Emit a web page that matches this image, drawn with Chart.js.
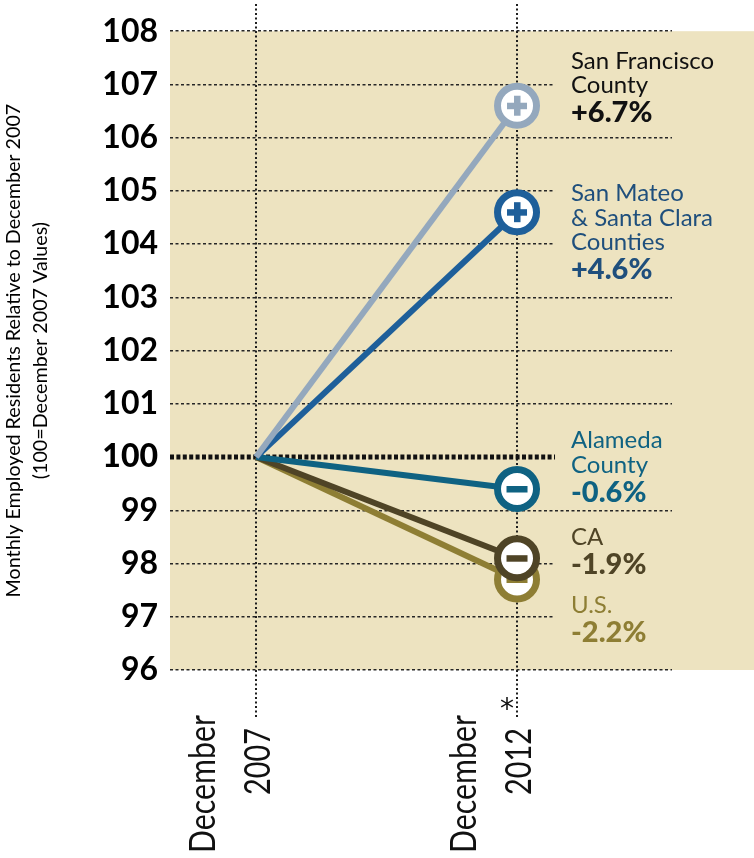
<!DOCTYPE html>
<html>
<head>
<meta charset="utf-8">
<script src="https://cdn.jsdelivr.net/npm/chart.js@4.4.1/dist/chart.umd.min.js"></script>
<style>
  html, body { margin: 0; padding: 0; background: #fff; }
  #wrap { width: 754px; height: 858px; }
</style>
</head>
<body>
<div id="wrap"><canvas id="myChart" width="754" height="858"></canvas></div>
<script>
"use strict";

// categories (x) and their tick labels
const years = [2007, 2012];
const xTickLabels = [['December', '2007'], ['December', '2012']];

// y axis
const yMin = 96;
const yMax = 108;
const yStep = 1;
const baseValue = 100;

// series (index values, Dec 2007 = 100)
const seriesNames = ['San Francisco County', 'San Mateo & Santa Clara Counties', 'Alameda County', 'CA', 'U.S.'];
const labelLines = [['San Francisco', 'County'], ['San Mateo', '& Santa Clara', 'Counties'], ['Alameda', 'County'], ['CA'], ['U.S.']];
const changeLabels = ['+6.7%', '+4.6%', '-0.6%', '-1.9%', '-2.2%'];
const sanFrancisco = [100, 106.6];
const sanMateoSantaClara = [100, 104.6];
const alameda = [100, 99.4];
const california = [100, 98.1];
const unitedStates = [100, 97.7];

const yTitle = ['Monthly Employed Residents Relative to December 2007', '(100=December 2007 Values)'];

var seriesValues = [sanFrancisco, sanMateoSantaClara, alameda, california, unitedStates];

// look of each series; labelAt = y value of the first label line baseline
var seriesStyle = [
    { line: '#94a8bd', text: '#111111', sign: '+', labelAt: 107.29 },
    { line: '#1e5f9a', text: '#1f4f7c', sign: '+', labelAt: 104.81 },
    { line: '#0f6282', text: '#0f6282', sign: '-', labelAt: 100.17 },
    { line: '#4f4426', text: '#4f4426', sign: '-', labelAt: 98.34 },
    { line: '#8e7e34', text: '#8e7e34', sign: '-', labelAt: 97.07 }
];

var TAN = '#ede3c0';
var FONT = 'Lato, "Open Sans", sans-serif';

// draw text rotated -90deg, squeezed along its length to a given width
function upText(ctx, text, x, y, width) {
    var w = ctx.measureText(text).width;
    ctx.save();
    ctx.translate(x, y);
    ctx.rotate(-Math.PI / 2);
    ctx.scale(width / w, 1);
    ctx.fillText(text, 0, 0);
    ctx.restore();
}

var paperPlugin = {
    id: 'paper',
    beforeDraw: function (chart) {
        var ctx = chart.ctx, a = chart.chartArea;
        ctx.save();
        ctx.fillStyle = TAN;
        ctx.fillRect(a.left, a.top, chart.width - a.left, a.bottom - a.top);
        ctx.restore();
    },
    beforeDatasetsDraw: function (chart) {
        var ctx = chart.ctx, a = chart.chartArea;
        var xs = chart.scales.x, ys = chart.scales.y;

        // vertical dotted markers at each category
        ctx.save();
        ctx.strokeStyle = '#1e1e1e';
        ctx.lineWidth = 2;
        ctx.setLineDash([2, 2.5]);
        years.forEach(function (yr) {
            var x = Math.round(xs.getPixelForValue(yr));
            ctx.beginPath();
            ctx.moveTo(x, 4);
            ctx.lineTo(x, 717);
            ctx.stroke();
        });
        ctx.restore();

        // thick dotted baseline at 100
        var y0 = ys.getPixelForValue(baseValue);
        ctx.save();
        ctx.strokeStyle = '#111';
        ctx.lineWidth = 5;
        ctx.setLineDash([4, 2.4]);
        ctx.beginPath();
        ctx.moveTo(a.left, y0);
        ctx.lineTo(a.right, y0);
        ctx.stroke();
        ctx.restore();

        // series labels on the right (boxes hide the grid behind the text)
        var x12 = xs.getPixelForValue(years[years.length - 1]);
        seriesStyle.forEach(function (st, i) {
            var yb = ys.getPixelForValue(st.labelAt);
            var lines = labelLines[i];
            var lastY = yb + (lines.length - 1) * 24.5 + 29;
            ctx.save();
            ctx.fillStyle = TAN;
            ctx.fillRect(x12 + 38, yb - 22, a.right - (x12 + 38) + 1, lastY - yb + 28);
            ctx.fillStyle = st.text;
            ctx.textAlign = 'left';
            ctx.textBaseline = 'alphabetic';
            ctx.font = '24px ' + FONT;
            lines.forEach(function (t, k) {
                ctx.fillText(t, x12 + 54, yb + k * 24.5);
            });
            ctx.font = '900 29px ' + FONT;
            ctx.fillText(changeLabels[i], x12 + 54, lastY);
            ctx.restore();
        });
    },
    afterDatasetDraw: function (chart, args) {
        var ctx = chart.ctx;
        var st = seriesStyle[args.index];
        var pts = args.meta.data;
        var p = pts[pts.length - 1];
        ctx.save();
        ctx.fillStyle = st.line;
        if (st.sign === '+') {
            ctx.fillRect(p.x - 10, p.y - 3, 20, 6.5);
            ctx.fillRect(p.x - 3, p.y - 10, 6.5, 20);
        } else {
            ctx.fillRect(p.x - 10.5, p.y - 3, 21, 6.5);
        }
        ctx.restore();
    },
    afterDraw: function (chart) {
        var ctx = chart.ctx, xs = chart.scales.x;
        ctx.save();
        ctx.fillStyle = '#111';
        ctx.textBaseline = 'alphabetic';
        ctx.textAlign = 'right';
        ctx.font = '36px ' + FONT;
        years.forEach(function (yr, i) {
            var x = xs.getPixelForValue(yr);
            var parts = xTickLabels[i];
            upText(ctx, parts[0], x - 41, 715, 138);
            upText(ctx, parts[1], x + 14, 728, 67);
        });
        // footnote mark on the latest month
        var xl = xs.getPixelForValue(years[years.length - 1]);
        ctx.textAlign = 'center';
        ctx.font = '28px "DejaVu Sans", sans-serif';
        ctx.fillText('*', xl - 10, 718);
        ctx.restore();
    }
};

var datasets = seriesValues.map(function (vals, i) {
    return {
        label: seriesNames[i],
        data: vals.map(function (v, j) { return { x: years[j], y: v }; }),
        borderColor: seriesStyle[i].line,
        borderWidth: 6,
        pointRadius: function (c) { return c.dataIndex === 0 ? 0 : 19.5; },
        pointHoverRadius: function (c) { return c.dataIndex === 0 ? 0 : 19.5; },
        pointBorderWidth: 7,
        pointBorderColor: seriesStyle[i].line,
        pointBackgroundColor: '#ffffff',
        tension: 0,
        clip: false
    };
});

var chart = new Chart(document.getElementById('myChart'), {
    type: 'line',
    data: { datasets: datasets },
    options: {
        responsive: false,
        animation: false,
        events: [],
        layout: { padding: { top: 25, right: 82, bottom: 188, left: 0 } },
        plugins: {
            legend: { display: false },
            tooltip: { enabled: false }
        },
        scales: {
            x: { type: 'linear', min: 2005.35, max: 2014.97, display: false },
            y: {
                min: yMin,
                max: yMax,
                afterFit: function (s) { s.width = 170; },
                border: { display: false, dash: [3, 2.5] },
                grid: {
                    drawTicks: false,
                    lineWidth: 1.5,
                    color: function (c) { return c.tick && c.tick.value === baseValue ? 'rgba(0,0,0,0)' : '#262626'; }
                },
                ticks: {
                    stepSize: yStep,
                    padding: 12,
                    color: '#000',
                    font: function (c) {
                        return { family: FONT, size: 32, weight: c.tick && c.tick.value === baseValue ? '900' : 'bold' };
                    }
                },
                title: {
                    display: true,
                    text: yTitle,
                    color: '#000',
                    padding: 0,
                    font: { family: FONT, size: 19.7, lineHeight: '27px' }
                }
            }
        }
    },
    plugins: [paperPlugin]
});
</script>
</body>
</html>
